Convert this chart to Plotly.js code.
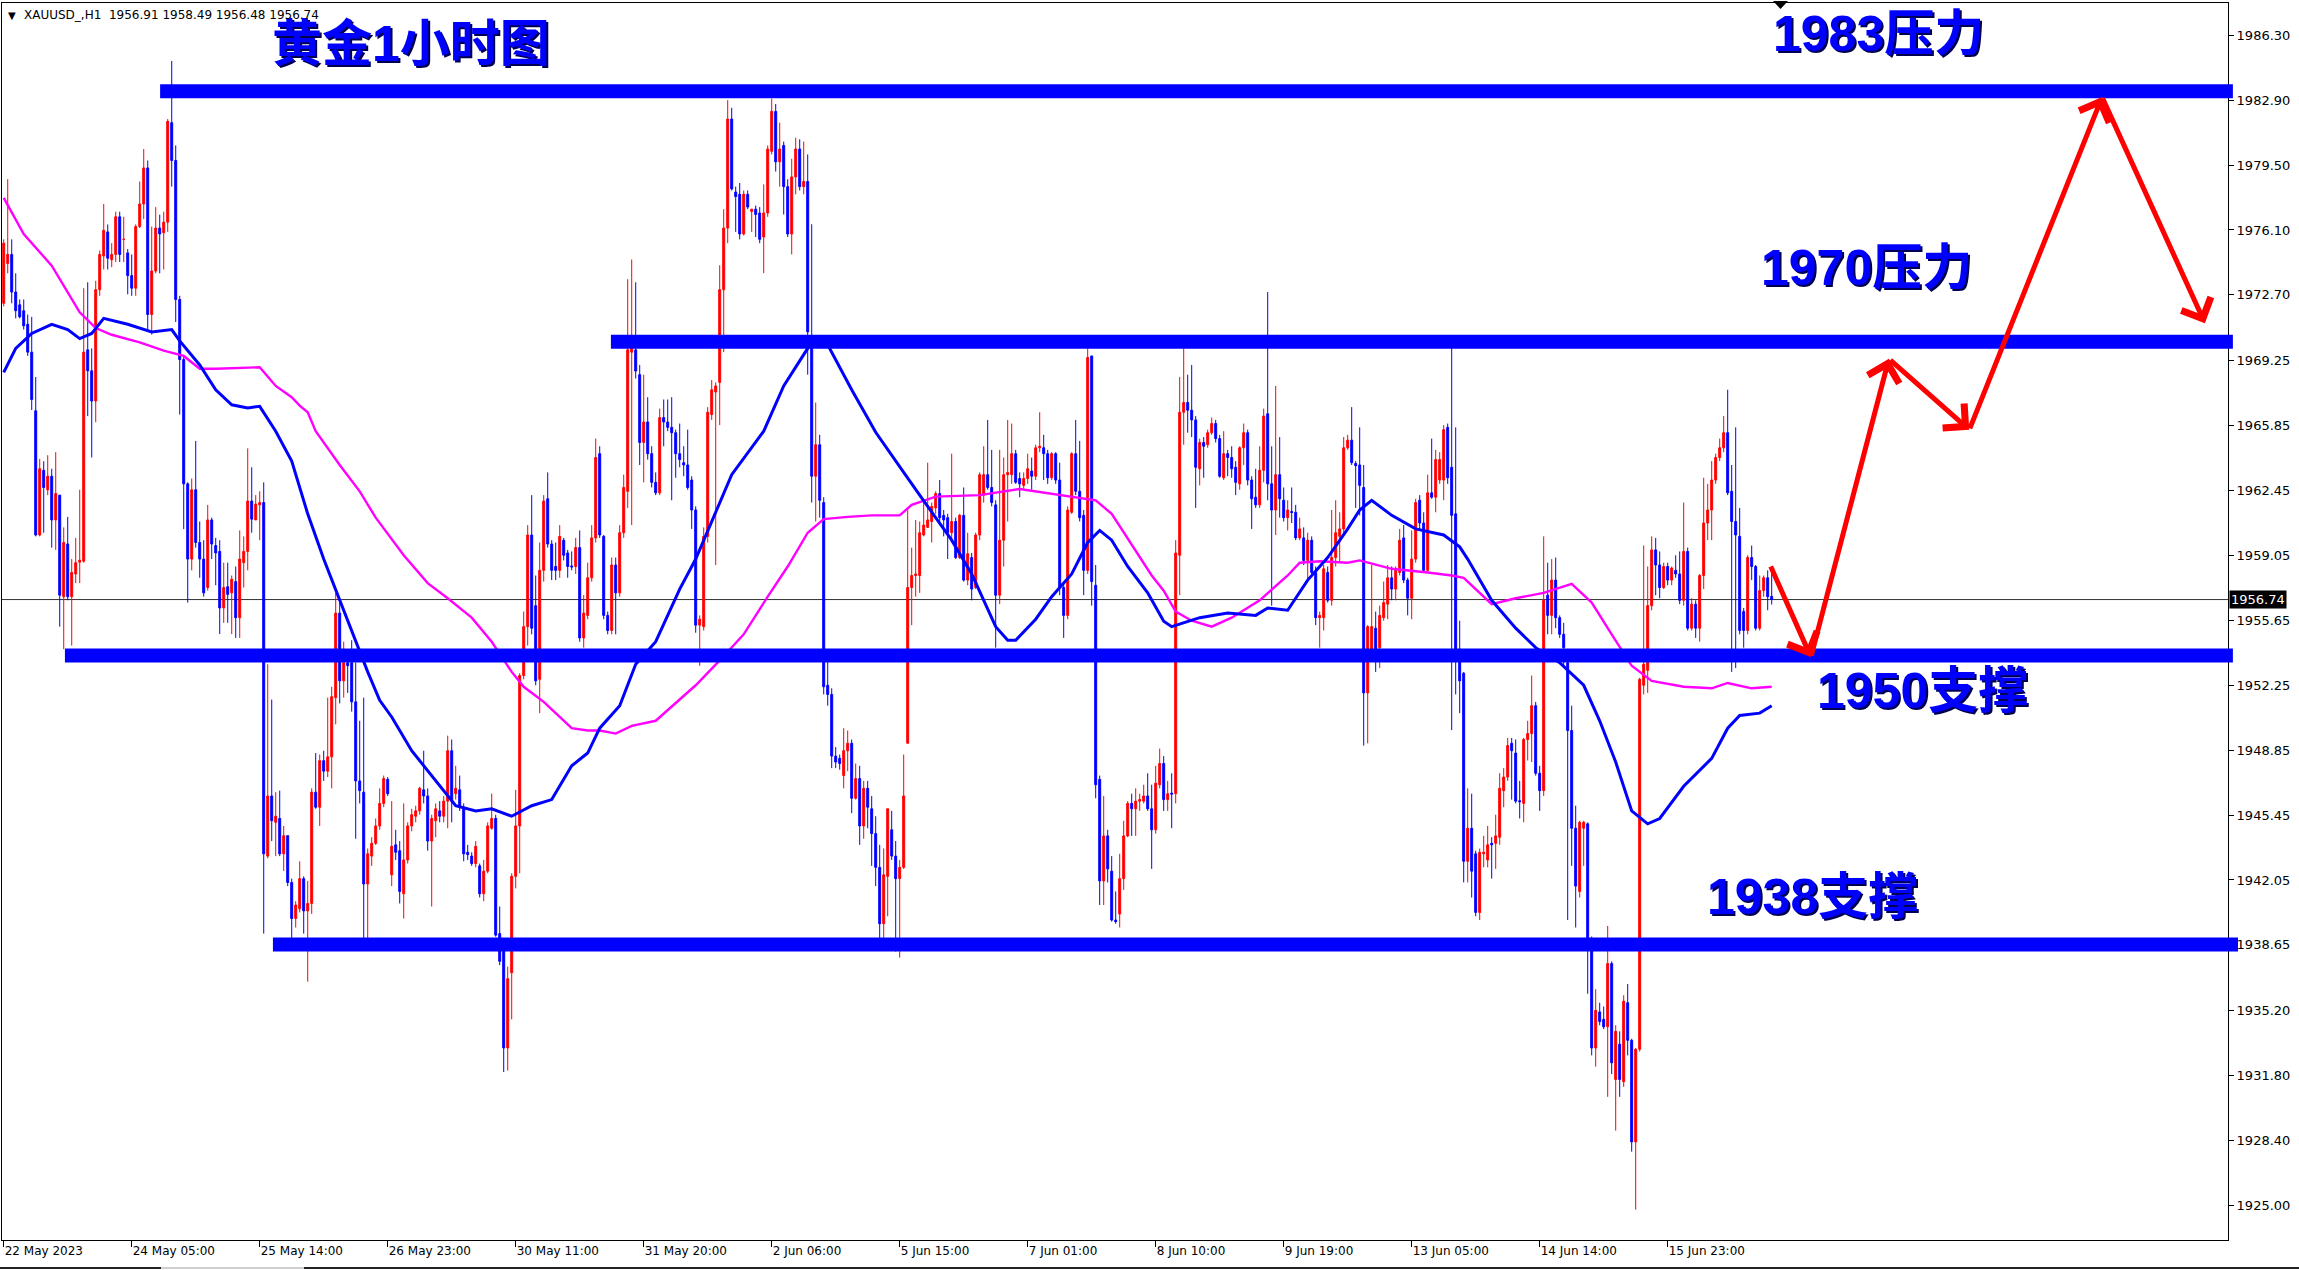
<!DOCTYPE html>
<html><head><meta charset="utf-8">
<script src="https://cdn.plot.ly/plotly-3.0.1.min.js"></script>
<style>html,body{margin:0;padding:0;background:#fff;overflow:hidden}#chart{width:2299px;height:1270px}</style>
</head><body><div id="chart"></div>
<script>
// ---------- DATA ----------
const opens = [
1972.26,1974.34,1974.82,1972.85,1972.18,1971.87,1971.16,1969.70,1966.63,1960.12,
1963.51,1962.49,1963.20,1960.91,1962.21,1956.89,1959.65,1956.89,1958.08,1958.70,
1958.75,1969.82,1968.72,1967.14,1972.97,1974.74,1976.00,1974.54,1974.82,1976.79,
1975.61,1974.90,1973.71,1973.05,1976.28,1977.46,1979.35,1971.67,1973.95,1976.20,
1975.96,1976.51,1981.72,1979.74,1972.46,1969.31,1962.80,1958.86,1962.49,1959.73,
1958.86,1957.37,1960.91,1959.57,1959.26,1956.30,1957.41,1957.09,1957.68,1955.79,
1958.67,1959.26,1961.90,1960.91,1961.70,1961.82,1943.30,1946.45,1945.07,1945.27,
1943.42,1944.37,1941.92,1940.03,1940.54,1942.12,1940.43,1940.82,1946.65,1945.86,
1948.30,1947.75,1948.50,1951.60,1956.03,1952.48,1953.43,1953.43,1951.38,1947.24,
1946.65,1941.84,1943.30,1943.97,1944.88,1946.06,1947.32,1942.32,1943.89,1943.58,
1941.33,1943.10,1944.88,1945.39,1945.67,1946.77,1946.45,1944.09,1945.15,1945.67,
1945.39,1946.18,1948.82,1946.57,1946.77,1945.86,1943.50,1943.30,1942.91,1942.79,
1941.33,1942.51,1944.76,1945.27,1939.24,1938.38,1933.25,1937.19,1942.24,1944.88,
1952.76,1955.32,1960.12,1956.42,1952.56,1958.27,1962.02,1959.65,1958.47,1958.27,
1959.85,1959.18,1958.50,1958.47,1959.46,1954.73,1955.91,1957.88,1959.97,1964.38,
1960.05,1955.91,1955.12,1958.55,1957.09,1960.24,1962.41,1969.70,1969.82,1968.52,
1964.97,1966.04,1964.38,1962.88,1962.33,1966.27,1966.04,1965.76,1965.48,1964.38,
1963.91,1963.79,1963.00,1961.43,1955.40,1955.32,1960.05,1966.43,1967.61,1968.12,
1972.97,1976.20,1981.91,1978.09,1977.97,1975.89,1977.97,1977.07,1977.19,1976.99,
1975.73,1976.99,1980.22,1982.31,1979.67,1980.53,1978.37,1975.89,1978.88,1980.34,
1978.37,1978.64,1970.49,1963.20,1964.85,1961.82,1952.25,1951.77,1948.54,1948.42,
1947.52,1948.82,1949.21,1946.33,1947.36,1944.88,1946.85,1945.78,1944.48,1942.71,
1939.76,1942.24,1944.68,1943.30,1942.12,1942.71,1949.21,1957.37,1958.00,1958.00,
1960.12,1960.52,1960.83,1961.54,1962.29,1961.15,1961.03,1960.24,1960.83,1958.94,
1961.15,1957.76,1958.94,1957.37,1960.12,1962.21,1963.28,1962.61,1961.70,1956.97,
1959.85,1963.28,1963.28,1964.38,1963.08,1962.72,1963.08,1963.47,1963.20,1964.69,
1964.69,1964.38,1963.12,1964.38,1963.00,1957.37,1955.91,1961.31,1964.38,1962.41,
1961.15,1958.27,1969.50,1957.49,1947.32,1942.00,1944.36,1942.51,1939.95,1940.27,
1942.12,1944.36,1946.06,1945.78,1946.18,1946.18,1946.45,1945.78,1944.68,1947.04,
1948.15,1946.26,1946.60,1946.57,1959.06,1966.55,1967.06,1966.66,1966.15,1963.59,
1964.97,1964.85,1965.48,1965.96,1965.17,1963.12,1964.38,1964.18,1963.67,1962.80,
1964.69,1965.48,1963.00,1962.10,1961.70,1963.51,1966.47,1962.80,1961.43,1963.28,
1961.94,1961.03,1961.35,1961.31,1959.97,1959.97,1958.79,1959.85,1958.16,1955.79,
1955.79,1958.16,1956.70,1958.94,1960.05,1960.44,1964.69,1965.09,1963.87,1963.79,
1962.61,1951.85,1954.14,1955.24,1954.22,1955.79,1956.50,1957.88,1957.29,1958.16,
1959.97,1957.76,1956.81,1958.86,1961.94,1960.75,1958.27,1962.33,1962.10,1963.00,
1963.00,1965.76,1963.67,1961.23,1954.14,1952.88,1943.03,1944.76,1943.42,1940.35,
1943.42,1943.10,1943.97,1943.97,1944.29,1946.73,1947.44,1949.21,1948.70,1946.20,
1946.06,1949.41,1949.72,1951.18,1947.64,1946.73,1956.97,1955.91,1957.76,1955.79,
1954.92,1953.43,1949.88,1944.76,1941.45,1944.76,1944.99,1938.97,1933.25,1935.14,
1934.75,1934.36,1937.67,1931.60,1933.45,1931.48,1935.62,1933.65,1928.33,1933.18,
1952.25,1953.03,1956.42,1959.34,1958.55,1957.37,1958.47,1957.76,1958.27,1958.08,
1956.70,1959.26,1955.24,1956.50,1955.24,1958.00,1960.75,1961.43,1963.00,1964.18,
1964.69,1965.48,1962.41,1960.83,1960.05,1956.11,1955.12,1958.94,1958.47,1955.24,
1957.21,1957.88,1956.91];
const highs = [
1975.61,1978.76,1975.61,1973.83,1972.46,1972.46,1971.67,1971.55,1968.40,1964.11,
1963.99,1964.30,1963.59,1964.46,1962.21,1960.52,1961.07,1958.86,1959.97,1962.49,
1973.05,1973.36,1969.90,1973.44,1975.02,1977.46,1976.39,1975.41,1977.06,1977.06,
1976.79,1975.10,1974.82,1976.39,1978.64,1980.34,1979.74,1976.28,1977.30,1976.90,
1977.06,1981.91,1984.95,1980.53,1972.65,1969.50,1962.88,1963.08,1965.05,1960.83,
1959.85,1961.70,1961.03,1959.97,1959.85,1958.67,1958.67,1958.00,1958.47,1960.36,
1960.05,1964.66,1963.67,1962.21,1962.41,1962.88,1953.35,1951.50,1946.65,1946.73,
1944.88,1944.37,1942.12,1940.94,1943.03,1942.24,1942.00,1946.85,1948.70,1948.62,
1948.82,1951.60,1952.17,1957.09,1956.58,1954.53,1954.14,1954.61,1953.43,1950.39,
1951.60,1943.70,1944.29,1945.27,1946.85,1947.52,1947.44,1946.18,1944.68,1944.09,
1946.06,1945.07,1945.78,1945.94,1946.93,1948.82,1946.85,1945.47,1946.06,1946.18,
1946.45,1949.61,1949.41,1948.03,1947.52,1946.06,1943.89,1943.50,1944.09,1942.91,
1943.10,1945.07,1946.57,1945.47,1940.66,1938.57,1937.51,1942.40,1946.77,1952.88,
1956.11,1960.64,1962.21,1958.00,1959.73,1962.21,1963.40,1959.85,1959.73,1960.64,
1959.97,1959.34,1959.26,1959.97,1960.36,1956.97,1958.67,1960.64,1965.17,1964.77,
1960.12,1956.11,1958.94,1958.94,1960.64,1963.28,1973.52,1974.55,1973.36,1969.03,
1968.52,1967.34,1964.77,1963.40,1966.74,1967.22,1967.22,1967.34,1965.64,1965.96,
1964.77,1965.64,1963.20,1961.62,1955.91,1960.52,1966.82,1968.24,1968.12,1974.25,
1977.19,1982.90,1982.50,1978.37,1978.56,1978.17,1978.17,1977.19,1977.38,1977.30,
1978.49,1980.53,1982.98,1982.70,1981.72,1980.73,1978.76,1979.83,1980.93,1980.85,
1980.73,1980.06,1976.40,1967.06,1965.37,1962.10,1953.74,1952.09,1949.01,1948.62,
1950.00,1949.88,1949.41,1948.15,1948.03,1947.24,1947.24,1946.45,1945.39,1943.89,
1943.70,1945.78,1945.67,1944.09,1943.10,1948.62,1961.54,1959.46,1960.91,1960.83,
1961.94,1963.91,1961.82,1962.41,1963.00,1961.43,1961.23,1964.38,1961.03,1961.23,
1962.61,1960.24,1959.18,1960.24,1963.40,1964.77,1966.15,1964.58,1961.94,1964.58,
1964.18,1966.15,1965.96,1964.58,1963.40,1963.40,1964.38,1964.18,1964.85,1966.55,
1965.37,1964.58,1964.46,1964.46,1963.91,1957.68,1961.62,1964.46,1966.15,1965.05,
1961.43,1969.90,1969.50,1958.55,1947.52,1946.45,1944.68,1943.30,1941.45,1943.42,
1945.15,1946.18,1946.57,1946.85,1946.57,1947.04,1947.64,1947.04,1948.03,1948.93,
1948.54,1947.24,1947.64,1959.85,1968.40,1969.90,1968.52,1969.03,1966.35,1965.17,
1965.25,1965.64,1966.27,1966.15,1965.37,1965.56,1964.58,1964.77,1963.99,1964.77,
1965.96,1965.64,1963.20,1963.59,1964.77,1966.74,1972.85,1964.77,1967.93,1965.25,
1962.61,1961.94,1962.61,1961.70,1961.03,1960.52,1960.24,1960.05,1958.47,1956.11,
1958.55,1958.47,1961.43,1961.94,1961.31,1965.25,1965.37,1966.82,1963.99,1965.76,
1963.79,1955.40,1958.55,1956.11,1956.42,1957.68,1958.55,1958.47,1958.47,1960.44,
1960.64,1957.88,1960.36,1962.02,1962.21,1961.31,1963.28,1965.17,1964.58,1964.46,
1965.88,1965.96,1969.98,1965.76,1955.63,1952.95,1946.85,1946.57,1943.58,1943.70,
1944.36,1944.88,1944.29,1945.47,1947.64,1947.91,1949.49,1949.49,1949.41,1947.24,
1949.49,1950.39,1952.76,1951.38,1948.03,1960.05,1958.67,1958.86,1958.94,1955.91,
1955.52,1953.55,1951.18,1945.94,1945.15,1945.15,1945.07,1939.09,1936.33,1935.62,
1935.42,1939.64,1937.79,1934.44,1934.12,1936.01,1936.60,1933.73,1933.25,1952.64,
1959.57,1958.47,1960.05,1959.97,1959.26,1958.67,1958.67,1958.47,1959.06,1959.26,
1961.82,1959.46,1956.81,1956.70,1958.08,1963.12,1962.80,1963.99,1964.38,1965.17,
1966.35,1967.73,1963.79,1965.76,1961.54,1956.30,1959.06,1959.57,1958.55,1958.00,
1958.00,1958.27,1958.49];
const lows = [
1972.10,1973.83,1972.26,1971.47,1971.47,1970.88,1969.50,1966.67,1960.05,1960.05,
1960.24,1962.21,1959.46,1959.34,1955.32,1954.14,1956.70,1954.33,1957.60,1957.60,
1958.67,1966.35,1964.18,1966.03,1972.65,1974.03,1974.03,1974.15,1974.42,1974.42,
1974.42,1972.73,1972.65,1972.65,1976.20,1976.67,1970.88,1970.61,1973.83,1973.83,
1974.03,1976.00,1978.37,1971.28,1966.43,1960.43,1956.58,1958.27,1959.46,1957.88,
1956.89,1957.21,1958.86,1957.49,1954.93,1955.52,1955.52,1954.93,1954.73,1954.73,
1957.37,1958.27,1960.24,1960.91,1959.85,1939.24,1943.18,1944.09,1943.30,1943.30,
1942.52,1941.73,1938.97,1939.56,1940.35,1939.24,1936.72,1940.27,1945.78,1944.88,
1947.24,1947.44,1946.85,1950.20,1951.30,1951.60,1951.85,1950.87,1944.21,1946.06,
1938.97,1938.97,1942.79,1943.89,1944.68,1945.86,1946.45,1941.73,1943.10,1940.82,
1940.03,1942.91,1944.60,1945.07,1945.47,1946.06,1943.58,1940.66,1944.29,1945.07,
1945.07,1944.76,1945.07,1946.26,1945.67,1943.03,1943.10,1942.79,1942.71,1941.13,
1940.94,1942.40,1944.68,1939.08,1937.59,1931.99,1932.07,1934.75,1941.61,1942.40,
1952.56,1954.33,1954.92,1952.25,1950.79,1957.68,1959.46,1957.76,1957.76,1957.88,
1958.79,1957.88,1958.27,1958.08,1954.53,1954.22,1955.71,1957.68,1959.73,1959.97,
1955.71,1954.92,1954.92,1954.92,1956.89,1959.97,1961.54,1960.64,1968.32,1963.79,
1962.88,1964.07,1962.61,1962.21,1962.21,1964.77,1965.56,1961.94,1963.12,1963.67,
1963.20,1962.49,1960.44,1955.00,1953.27,1955.12,1959.73,1966.15,1958.55,1965.88,
1969.70,1975.41,1978.17,1976.00,1975.61,1975.81,1977.19,1976.00,1975.73,1975.41,
1973.84,1976.79,1980.06,1979.16,1978.37,1976.91,1975.73,1974.82,1977.97,1978.17,
1977.97,1968.52,1961.82,1960.83,1961.03,1951.77,1951.18,1947.91,1947.91,1947.83,
1946.85,1947.75,1945.55,1946.26,1943.89,1944.21,1944.76,1942.79,1941.73,1938.77,
1938.97,1940.15,1943.10,1938.30,1937.98,1942.63,1949.21,1955.40,1956.89,1957.09,
1960.05,1960.52,1959.73,1961.23,1960.83,1960.05,1958.86,1959.73,1958.86,1958.86,
1957.68,1957.49,1956.70,1957.29,1959.85,1961.82,1962.49,1961.62,1954.22,1956.50,
1958.47,1960.83,1962.80,1962.80,1962.10,1962.49,1962.80,1962.49,1963.00,1964.46,
1963.00,1962.80,1963.00,1962.80,1956.97,1954.73,1955.71,1961.23,1962.21,1960.83,
1956.97,1958.08,1956.42,1946.33,1940.74,1940.74,1941.92,1939.87,1939.76,1939.56,
1941.53,1944.29,1944.36,1944.36,1945.67,1946.06,1945.67,1942.63,1944.48,1946.85,
1945.67,1945.67,1944.76,1946.06,1956.97,1964.85,1965.48,1965.25,1961.54,1962.72,
1963.12,1964.69,1965.37,1964.97,1963.12,1963.00,1963.20,1963.12,1962.21,1962.49,
1963.79,1962.72,1960.44,1961.54,1961.54,1962.88,1961.94,1956.42,1960.12,1961.03,
1960.83,1960.36,1960.75,1959.85,1959.85,1958.55,1957.76,1958.00,1955.40,1954.22,
1955.12,1956.58,1956.42,1958.47,1958.67,1960.24,1964.58,1963.79,1961.54,1961.15,
1949.09,1949.21,1953.82,1952.95,1953.15,1955.63,1955.71,1956.70,1956.70,1958.00,
1957.60,1955.91,1955.71,1958.67,1960.44,1958.16,1958.16,1962.02,1961.31,1962.80,
1961.94,1962.80,1949.90,1951.77,1950.79,1941.92,1941.92,1941.13,1940.15,1939.95,
1942.71,1942.71,1942.12,1942.63,1943.89,1945.86,1947.24,1946.26,1946.06,1945.27,
1945.07,1948.31,1948.23,1947.52,1945.67,1946.45,1954.92,1954.92,1955.24,1954.73,
1953.15,1939.95,1942.79,1939.56,1941.13,1942.79,1936.09,1932.86,1932.27,1934.44,
1934.24,1930.69,1931.88,1928.92,1930.69,1931.21,1932.86,1927.82,1924.78,1933.06,
1951.77,1951.85,1956.18,1956.97,1956.81,1957.29,1957.49,1957.49,1957.88,1956.50,
1956.42,1955.12,1955.12,1954.73,1954.53,1957.29,1959.85,1959.85,1962.80,1963.99,
1964.46,1962.21,1952.95,1953.15,1954.92,1954.22,1954.92,1957.76,1955.12,1955.12,
1956.89,1956.18,1956.48];
const closes = [
1975.41,1974.82,1972.85,1971.87,1971.55,1971.08,1969.70,1967.22,1960.12,1963.59,
1962.61,1963.20,1960.91,1962.29,1956.97,1959.73,1956.89,1958.16,1958.67,1958.80,
1969.70,1968.72,1967.14,1972.97,1974.82,1976.08,1974.62,1974.82,1976.79,1974.82,
1975.61,1973.71,1973.05,1976.28,1977.46,1979.35,1971.67,1973.95,1976.20,1975.89,
1976.51,1981.79,1979.74,1972.46,1969.31,1962.80,1958.86,1962.49,1959.73,1958.86,
1957.09,1960.91,1959.65,1959.18,1956.30,1957.37,1957.01,1957.80,1955.79,1958.86,
1959.26,1961.90,1960.95,1961.74,1961.82,1943.42,1946.45,1945.15,1945.39,1943.42,
1944.37,1941.92,1940.03,1940.74,1942.12,1940.43,1940.82,1946.65,1945.86,1948.30,
1947.75,1948.50,1951.65,1956.03,1952.48,1953.43,1953.27,1951.38,1947.24,1946.73,
1941.84,1943.42,1943.97,1944.88,1946.06,1947.36,1946.57,1943.81,1943.50,1941.45,
1943.10,1944.88,1945.47,1945.67,1946.85,1946.45,1944.09,1945.27,1945.78,1945.39,
1946.18,1948.82,1946.18,1946.85,1945.86,1943.42,1943.38,1942.91,1943.81,1941.33,
1942.51,1944.88,1945.27,1939.16,1937.79,1933.25,1936.88,1942.24,1944.88,1952.76,
1955.32,1960.12,1955.24,1952.48,1958.27,1961.90,1959.65,1958.27,1958.27,1960.05,
1959.06,1958.47,1958.45,1959.46,1954.73,1956.03,1957.88,1959.97,1964.18,1960.12,
1955.91,1955.12,1958.55,1957.09,1960.24,1962.61,1969.82,1969.98,1968.71,1964.97,
1966.04,1964.38,1962.88,1962.33,1966.27,1966.04,1965.76,1965.48,1964.38,1964.07,
1963.79,1962.61,1961.43,1955.40,1955.71,1960.05,1966.55,1967.73,1967.93,1972.97,
1976.20,1981.91,1978.25,1977.85,1975.89,1977.97,1977.30,1977.19,1976.91,1975.61,
1976.99,1980.34,1982.31,1979.67,1980.34,1978.37,1975.89,1978.88,1980.34,1978.37,
1978.64,1970.76,1963.20,1964.85,1961.94,1952.17,1951.77,1948.54,1948.23,1948.15,
1948.82,1949.21,1946.33,1947.36,1944.88,1946.85,1945.86,1944.48,1942.71,1939.76,
1942.32,1945.78,1943.30,1942.12,1942.71,1946.45,1957.37,1958.00,1958.08,1960.24,
1960.64,1960.91,1961.62,1962.29,1961.03,1960.91,1960.24,1960.83,1958.94,1961.15,
1957.76,1959.14,1957.29,1960.12,1963.28,1963.28,1962.61,1961.82,1956.97,1959.85,
1963.28,1963.40,1964.38,1962.88,1962.80,1963.08,1963.59,1963.20,1964.69,1964.77,
1964.38,1963.12,1964.38,1963.00,1957.37,1955.91,1961.43,1964.38,1962.41,1961.03,
1958.27,1969.42,1957.68,1947.04,1942.00,1944.36,1942.63,1939.95,1939.87,1942.12,
1944.36,1946.06,1945.78,1946.18,1946.26,1946.45,1945.78,1944.68,1947.12,1948.15,
1946.26,1946.57,1946.55,1959.18,1966.55,1967.06,1966.66,1966.15,1963.67,1964.97,
1964.77,1965.48,1965.96,1965.17,1963.20,1964.38,1964.18,1963.59,1962.88,1964.69,
1965.48,1963.00,1962.02,1961.70,1963.51,1966.35,1962.80,1961.43,1963.28,1962.02,
1961.03,1961.43,1961.30,1959.97,1960.44,1958.79,1959.85,1958.16,1955.79,1955.91,
1958.35,1956.70,1958.94,1960.24,1960.44,1964.69,1965.09,1963.91,1963.75,1962.72,
1951.85,1955.32,1955.32,1954.14,1955.91,1956.58,1957.88,1957.29,1958.27,1959.85,
1957.76,1956.81,1958.86,1961.82,1960.75,1958.27,1962.33,1962.10,1964.07,1964.07,
1965.64,1963.12,1961.15,1954.14,1952.48,1943.03,1944.76,1942.51,1940.35,1943.50,
1943.50,1943.89,1943.89,1944.36,1946.85,1947.44,1949.09,1948.82,1946.18,1946.15,
1949.41,1949.72,1951.18,1947.64,1946.73,1956.70,1955.91,1957.76,1955.79,1954.92,
1954.22,1949.88,1944.76,1941.73,1945.07,1945.07,1938.97,1933.25,1935.22,1934.63,
1934.36,1937.67,1932.47,1934.12,1931.60,1935.70,1933.65,1928.33,1933.18,1952.56,
1953.35,1956.42,1959.34,1958.55,1957.37,1958.47,1957.76,1958.39,1958.08,1956.70,
1959.26,1955.24,1956.50,1955.24,1958.00,1960.75,1961.43,1963.00,1964.18,1964.69,
1965.48,1962.33,1960.83,1960.12,1955.12,1955.12,1958.94,1958.47,1955.24,1957.21,
1957.88,1956.89,1956.74];

// bar positions of the time-axis labels (every 32 H1 bars)
const tickBars = [0,32,64,96,128,160,192,224,256,288,320,352,384,416];
const tickLabels = ['22 May 2023','24 May 05:00','25 May 14:00','26 May 23:00','30 May 11:00','31 May 20:00','2 Jun 06:00','5 Jun 15:00','7 Jun 01:00','8 Jun 10:00','9 Jun 19:00','13 Jun 05:00','14 Jun 14:00','15 Jun 23:00'];
const priceTicks = [1986.30,1982.90,1979.50,1976.10,1972.70,1969.25,1965.85,1962.45,1959.05,1955.65,1952.25,1948.85,1945.45,1942.05,1938.65,1935.20,1931.80,1928.40,1925.00];

// moving averages (read at sample bars)
const maBlueBars = [0,3,7,12,16,19,22,25,31,37,42,44,49,53,57,61,64,68,72,74,76,80,84,88,91,94,97,102,107,113,118,122,127,132,137,142,146,149,154,158,163,169,173,177,182,190,195,201,203,206,212,218,221,225,229,233,237,242,246,248,251,253,258,262,267,271,274,277,281,286,290,292,299,306,313,316,321,326,331,336,339,342,347,353,360,364,366,372,378,383,389,395,399,403,407,411,414,420,427,431,434,439,442];
const maBlueVals = [1968.64,1969.90,1970.68,1971.16,1970.88,1970.41,1970.68,1971.47,1971.16,1970.76,1970.88,1970.29,1969.03,1967.73,1966.94,1966.78,1966.86,1965.56,1964.00,1962.60,1961.23,1958.86,1956.70,1954.53,1952.95,1951.46,1950.59,1948.82,1947.52,1945.94,1945.67,1945.78,1945.39,1945.94,1946.26,1948.03,1948.70,1950.00,1951.18,1953.35,1954.53,1957.29,1958.86,1960.83,1963.28,1965.56,1967.93,1969.90,1970.29,1970.09,1967.73,1965.50,1964.58,1963.40,1962.21,1961.03,1959.85,1958.08,1956.30,1955.32,1954.61,1954.61,1955.71,1956.89,1958.08,1959.73,1960.36,1959.85,1958.47,1957.09,1955.60,1955.32,1955.79,1956.03,1955.91,1956.30,1956.18,1957.76,1958.94,1960.44,1961.43,1961.94,1961.15,1960.44,1960.12,1959.50,1958.86,1956.70,1955.24,1954.22,1953.43,1952.25,1950.39,1948.23,1945.67,1944.99,1945.27,1946.96,1948.42,1950.00,1950.67,1950.79,1951.18];
const maPinkBars = [0,5,12,16,19,23,27,34,40,45,49,53,57,64,68,72,74,76,78,84,89,93,100,106,111,117,122,127,130,135,138,142,146,149,153,157,163,168,173,179,185,191,196,201,205,211,217,224,227,233,244,254,258,265,273,277,283,287,290,293,297,302,307,314,321,324,329,336,339,347,356,362,365,372,378,385,392,397,402,407,412,420,427,431,437,442];
const maPinkVals = [1977.78,1975.89,1974.23,1972.85,1971.79,1970.96,1970.61,1970.21,1969.78,1969.50,1968.83,1968.83,1968.87,1968.91,1967.93,1967.34,1966.90,1966.55,1965.56,1963.79,1962.41,1961.03,1959.06,1957.60,1956.81,1955.79,1954.53,1952.95,1952.17,1951.38,1950.79,1950.00,1949.88,1949.88,1949.72,1950.12,1950.39,1951.30,1952.25,1953.55,1954.92,1956.89,1958.47,1960.24,1960.95,1961.07,1961.15,1961.15,1961.70,1962.13,1962.21,1962.53,1962.41,1962.21,1961.94,1961.23,1959.26,1958.00,1957.20,1956.11,1955.63,1955.32,1955.79,1956.70,1958.00,1958.67,1958.75,1958.67,1958.79,1958.35,1958.16,1958.00,1957.88,1956.50,1956.81,1957.09,1957.56,1956.58,1954.92,1953.27,1952.48,1952.17,1952.09,1952.37,1952.09,1952.17];

// horizontal support / resistance levels drawn on the chart
const levelPrices = [1983.37, 1970.24, 1953.81, 1938.67];
const levelStartBars = [39.1, 151.8, 15.3, 67.3];
const levelEndPaper = [1.0022, 1.0022, 1.0022, 1.0045];

// red forecast path (bar, price) vertices
const pathBars = [441.6, 451.8, 471.3, 491.4, 524.6, 550.3];
const pathPrices = [1958.55, 1953.73, 1969.35, 1965.63, 1983.06, 1971.22];

// text labels
const labelTexts = ['黄金1小时图','1983压力','1970压力','1950支撑','1938支撑'];
const labelBars = [101.8, 468.6, 465.6, 479.6, 452.1];
const labelPrices = [1985.84, 1986.36, 1974.10, 1951.95, 1941.16];

const lastPrice = 1956.74;
const headerText = 'XAUUSD_,H1\u00a0\u00a01956.91 1958.49 1956.48 1956.74';

// ---------- CHART ----------
const X0 = -0.43, X1 = 556.08;
const Y0 = 1923.19, Y1 = 1987.99;
const W = 2299, H = 1270, ML = 2, MR = 71, MT = 3, MB = 30;
const PW = W - ML - MR, PH = H - MT - MB;
const toPaperX = b => (b - X0) / (X1 - X0);
const pxX = px => (px - ML) / PW;
const pxY = py => 1 - (py - MT) / PH;

const bars = opens.map((_, i) => i);

const traces = [
  {type:'scatter', mode:'lines', x: maPinkBars, y: maPinkVals, line:{color:'#ff00ff', width:2.4}, hoverinfo:'skip', showlegend:false},
  {type:'scatter', mode:'lines', x: maBlueBars, y: maBlueVals, line:{color:'#0000ff', width:3}, hoverinfo:'skip', showlegend:false},
  {type:'candlestick', x: bars, open: opens, high: highs, low: lows, close: closes,
   increasing:{line:{color:'#ff0000', width:1}, fillcolor:'#ff0000'},
   decreasing:{line:{color:'#0000ff', width:1}, fillcolor:'#0000ff'},
   whiskerwidth:0, hoverinfo:'skip', showlegend:false}
];

const shapes = [];
shapes.push({type:'line', xref:'paper', yref:'y', x0:0, x1:1, y0:lastPrice, y1:lastPrice, line:{color:'#333333', width:1}, layer:'below'});
levelPrices.forEach((p, i) => {
  shapes.push({type:'line', xref:'paper', yref:'y', x0: toPaperX(levelStartBars[i]), x1: levelEndPaper[i], y0:p, y1:p, line:{color:'#0000ff', width:14}, layer:'above'});
});
shapes.push({type:'path', xref:'paper', yref:'paper', path:`M ${pxX(1773)} ${pxY(1)} L ${pxX(1788)} ${pxY(1)} L ${pxX(1780.5)} ${pxY(9)} Z`, fillcolor:'#000', line:{width:0}});
shapes.push({type:'line', xref:'paper', yref:'paper', x0:pxX(0), x1:pxX(161), y0:pxY(1268), y1:pxY(1268), line:{color:'#222', width:2}});
shapes.push({type:'line', xref:'paper', yref:'paper', x0:pxX(304), x1:pxX(2299), y0:pxY(1268), y1:pxY(1268), line:{color:'#222', width:2}});
shapes.push({type:'line', xref:'paper', yref:'paper', x0:pxX(161), x1:pxX(304), y0:pxY(1268), y1:pxY(1268), line:{color:'#cfcfcf', width:2}});

const annotations = [];
for (let i = 0; i < pathBars.length - 1; i++) {
  annotations.push({x: pathBars[i+1], y: pathPrices[i+1], xref:'x', yref:'y',
    ax: pathBars[i], ay: pathPrices[i], axref:'x', ayref:'y', text:'',
    showarrow:true, arrowhead:4, arrowsize:1.25, arrowwidth:5, arrowcolor:'#ff0000', standoff:0, startstandoff:0});
}
const labelFont = "'Liberation Sans', Arial, 'Noto Sans CJK SC', sans-serif";
labelTexts.forEach((t, i) => {
  annotations.push({x: labelBars[i], y: labelPrices[i], xref:'x', yref:'y', text:'<b>'+t+'</b>', showarrow:false,
    xanchor:'center', yanchor:'middle', xshift:2, yshift:-2, font:{family:labelFont, size:50, color:'#000050'}});
  annotations.push({x: labelBars[i], y: labelPrices[i], xref:'x', yref:'y', text:'<b>'+t+'</b>', showarrow:false,
    xanchor:'center', yanchor:'middle', font:{family:labelFont, size:50, color:'#0000ff'}});
});
annotations.push({xref:'paper', yref:'paper', x:pxX(6), y:pxY(8), xanchor:'left', yanchor:'top', showarrow:false,
  text:'\u25BC', font:{family:'DejaVu Sans', size:10, color:'#000'}});
annotations.push({xref:'paper', yref:'paper', x:pxX(22), y:pxY(6), xanchor:'left', yanchor:'top', showarrow:false,
  text: headerText, font:{family:'DejaVu Sans', size:12, color:'#000'}});
annotations.push({xref:'paper', yref:'y', x:1, y:lastPrice, xanchor:'left', yanchor:'middle', xshift:1, showarrow:false,
  text:lastPrice.toFixed(2), bgcolor:'#000', borderpad:1, font:{family:'DejaVu Sans', size:13, color:'#fff'}});

const layout = {
  width: W, height: H,
  margin:{l:ML, r:MR, t:MT, b:MB, pad:0},
  paper_bgcolor:'#fff', plot_bgcolor:'#fff',
  showlegend:false, hovermode:false,
  xaxis:{range:[X0, X1], autorange:false, showgrid:false, zeroline:false,
    rangeslider:{visible:false},
    tickmode:'array', tickvals:tickBars, ticktext:tickLabels,
    ticks:'outside', ticklen:6, tickcolor:'#000', tickwidth:1,
    ticklabelposition:'outside right',
    tickfont:{family:'DejaVu Sans', size:12, color:'#000'},
    showline:true, linecolor:'#000', linewidth:1, mirror:true},
  yaxis:{range:[Y0, Y1], autorange:false, side:'right', showgrid:false, zeroline:false,
    tickmode:'array', tickvals:priceTicks, ticktext:priceTicks.map(v => v.toFixed(2)),
    ticks:'outside', ticklen:5, tickcolor:'#000', tickwidth:1,
    tickfont:{family:'DejaVu Sans', size:13, color:'#000'},
    showline:true, linecolor:'#000', linewidth:1, mirror:true},
  shapes, annotations
};

Plotly.newPlot('chart', traces, layout, {displayModeBar:false, staticPlot:true});
</script>
</body></html>
